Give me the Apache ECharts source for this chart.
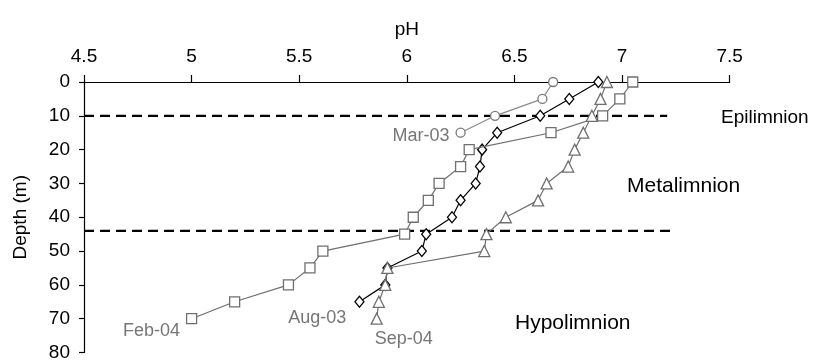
<!DOCTYPE html>
<html>
<head>
<meta charset="utf-8">
<script src="https://cdn.jsdelivr.net/npm/echarts@6/dist/echarts.min.js"></script>
<style>
  html, body { margin: 0; padding: 0; background: #fff; }
  #chart { width: 818px; height: 362px; }
</style>
</head>
<body>
<div id="chart"></div>
<script>
// pH profiles by depth (m) for four sampling dates
const mar03Depth = [0, 5, 10, 15];
const mar03PH = [6.68, 6.63, 6.41, 6.25];

const aug03Depth = [0, 5, 10, 15, 20, 25, 30, 35, 40, 45, 50, 55, 60, 65];
const aug03PH = [6.89, 6.755, 6.62, 6.42, 6.35, 6.34, 6.32, 6.25, 6.21, 6.09, 6.07, 5.91, 5.90, 5.78];

const feb04Depth = [0, 5, 10, 15, 20, 25, 30, 35, 40, 45, 50, 55, 60, 65, 70];
const feb04PH = [7.05, 6.99, 6.91, 6.67, 6.29, 6.25, 6.15, 6.10, 6.03, 5.99, 5.61, 5.55, 5.45, 5.20, 5.00];

const sep04Depth = [0, 5, 10, 15, 20, 25, 30, 35, 40, 45, 50, 55, 60, 65, 70];
const sep04PH = [6.93, 6.90, 6.86, 6.82, 6.78, 6.75, 6.65, 6.61, 6.46, 6.37, 6.36, 5.91, 5.90, 5.87, 5.86];

// thermal layer boundaries: depth and the pH where the dashed line stops
const layerDepths = [10, 44];
const layerEndPH = [7.21, 7.24];
const layerNames = ['Epilimnion', 'Metalimnion', 'Hypolimnion'];

const FONT = "'Liberation Sans', Arial, Helvetica, sans-serif";
const GREY = '#6f6f6f';
const LABEL_GREY = '#767676';

function pairs(ph, depth) {
  return ph.map((v, i) => [v, depth[i]]);
}

// attach the date label to the deepest point of a profile
function withEndLabel(data, text, labelOpt) {
  const out = data.map(d => ({ value: d }));
  out[out.length - 1].label = Object.assign({
    show: true,
    formatter: text,
    color: LABEL_GREY,
    fontFamily: FONT,
    fontSize: 18
  }, labelOpt);
  return out;
}

function profile(name, ph, depth, symbol, size, color, lineColor, labelOpt, z) {
  return {
    name: name,
    type: 'line',
    data: withEndLabel(pairs(ph, depth), name, labelOpt),
    symbol: symbol,
    symbolSize: size,
    showAllSymbol: true,
    lineStyle: { color: lineColor, width: 1.2 },
    itemStyle: { color: '#fff', borderColor: color, borderWidth: 1.3 },
    label: { show: false },
    emphasis: { disabled: true },
    animation: false,
    z: z
  };
}

const boundarySeries = layerDepths.map((d, i) => ({
  type: 'line',
  data: [[4.5, d], [layerEndPH[i], d]],
  symbol: 'none',
  lineStyle: { color: '#000', width: 2.2, type: [10, 6] },
  emphasis: { disabled: true },
  animation: false,
  z: 1
}));

const chart = echarts.init(document.getElementById('chart'), null, { renderer: 'canvas' });

chart.setOption({
  backgroundColor: '#fff',
  animation: false,
  textStyle: { fontFamily: FONT },
  grid: { left: 84, right: 88.4, top: 82, bottom: 7.7, containLabel: false },
  xAxis: {
    type: 'value',
    position: 'top',
    min: 4.5,
    max: 7.5,
    interval: 0.5,
    name: 'pH',
    nameLocation: 'middle',
    nameGap: 43,
    nameTextStyle: { color: '#000', fontSize: 19, fontFamily: FONT },
    axisLine: { show: true, onZero: false, lineStyle: { color: '#000', width: 1.2 } },
    axisTick: { show: true, inside: false, length: 7, lineStyle: { color: '#000', width: 1.2 } },
    axisLabel: { color: '#000', fontSize: 19, fontFamily: FONT, margin: 16 },
    splitLine: { show: false }
  },
  yAxis: {
    type: 'value',
    inverse: true,
    min: 0,
    max: 80,
    interval: 10,
    name: 'Depth (m)',
    nameLocation: 'middle',
    nameRotate: 90,
    nameGap: 54,
    nameTextStyle: { color: '#000', fontSize: 19, fontFamily: FONT },
    axisLine: { show: true, onZero: false, lineStyle: { color: '#000', width: 1.2 } },
    axisTick: { show: true, inside: false, length: 5, lineStyle: { color: '#000', width: 1.2 } },
    axisLabel: { color: '#000', fontSize: 19, fontFamily: FONT, margin: 14 },
    splitLine: { show: false }
  },
  series: [
    ...boundarySeries,
    profile('Mar-03', mar03PH, mar03Depth, 'circle', 9, '#7a7a7a', '#8a8a8a',
      { position: 'left', distance: 6, offset: [0, 3] }, 3),
    profile('Aug-03', aug03PH, aug03Depth, 'diamond', [9, 11], '#000', '#000',
      { position: 'left', distance: 8, offset: [0, 16] }, 4),
    profile('Feb-04', feb04PH, feb04Depth, 'rect', 10, GREY, GREY,
      { position: 'left', distance: 6, offset: [0, 12] }, 5),
    profile('Sep-04', sep04PH, sep04Depth, 'triangle', 11, GREY, GREY,
      { position: 'bottom', distance: 5, offset: [27, 0] }, 6)
  ],
  graphic: [
    { type: 'text', left: 721, top: 108, style: { text: layerNames[0], fill: '#000', font: '19px ' + FONT } },
    { type: 'text', left: 627, top: 176, style: { text: layerNames[1], fill: '#000', font: '21px ' + FONT } },
    { type: 'text', left: 515, top: 313, style: { text: layerNames[2], fill: '#000', font: '21px ' + FONT } }
  ]
});
</script>
</body>
</html>
